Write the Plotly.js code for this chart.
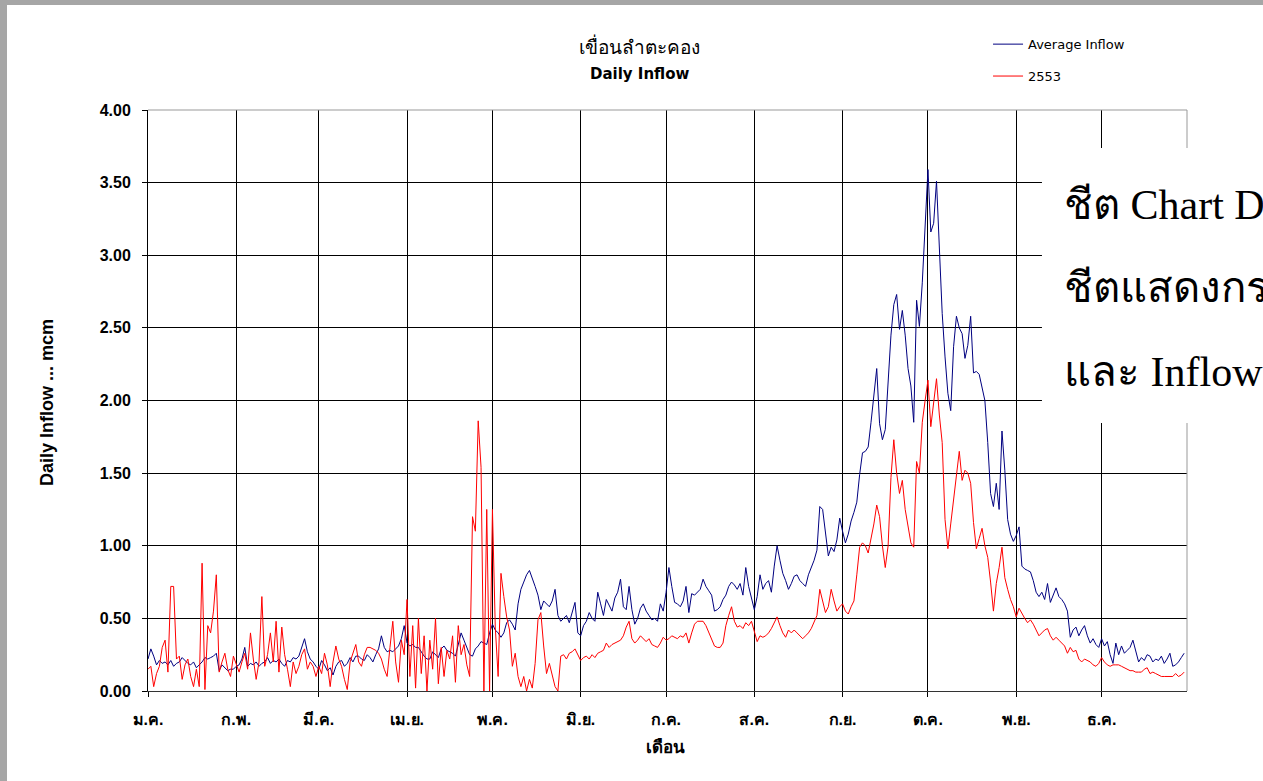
<!DOCTYPE html>
<html>
<head>
<meta charset="utf-8">
<script src="https://cdn.plot.ly/plotly-3.0.1.min.js"></script>
<style>
  html, body { margin: 0; padding: 0; background: #ffffff; }
  #frame { position: absolute; left: 0; top: 0; width: 1263px; height: 781px; box-sizing: border-box;
           border-top: 5px solid #a6a6a6; border-left: 7px solid #a6a6a6; background: #ffffff; overflow: hidden; }
  #chart { position: absolute; left: 0; top: 0; width: 1256px; height: 776px; }
</style>
</head>
<body>
<div id="frame"><div id="chart"></div></div>
<script>
// ---- data ----
const chartTitle = "เขื่อนลำตะคอง";
const chartSubtitle = "Daily Inflow";
const yTitle = "Daily Inflow ... mcm";
const xTitle = "เดือน";
const seriesNames = ["Average Inflow", "2553"];
const monthLabels = ["ม.ค.", "ก.พ.", "มี.ค.", "เม.ย.", "พ.ค.", "มิ.ย.", "ก.ค.", "ส.ค.", "ก.ย.", "ต.ค.", "พ.ย.", "ธ.ค."];
const monthStartDay = [0, 31, 60, 91, 121, 152, 182, 213, 244, 274, 305, 335];
const noteLines = ["ชีต Chart D", "ชีตแสดงกร", "และ Inflow"];

// Average Inflow (mcm/day), one value per day
const avgInflow = [
  0.22,0.29,0.24,0.18,0.21, 0.19,0.20,0.18,0.21,0.17, 0.19,0.20,0.23,0.21,0.19, 0.18,0.20,0.16,0.18,0.20,
  0.23,0.22,0.23,0.24,0.26, 0.14,0.18,0.16,0.14,0.15, 0.15,0.17,0.18,0.22,0.30, 0.17,0.19,0.18,0.20,0.17,
  0.19,0.20,0.23,0.19,0.21, 0.20,0.22,0.19,0.17,0.21, 0.20,0.23,0.22,0.24,0.30, 0.36,0.27,0.22,0.20,0.17,
  0.15,0.21,0.18,0.14,0.16, 0.11,0.17,0.20,0.21,0.17, 0.19,0.23,0.20,0.24,0.24, 0.22,0.21,0.25,0.23,0.20,
  0.25,0.29,0.38,0.30,0.27, 0.28,0.27,0.29,0.31,0.36, 0.45,0.33,0.31,0.32,0.30, 0.30,0.27,0.24,0.22,0.22,
  0.27,0.25,0.23,0.29,0.31, 0.28,0.27,0.26,0.24,0.33, 0.40,0.35,0.30,0.25,0.24, 0.29,0.31,0.34,0.33,0.32,
  0.40,0.46,0.42,0.40,0.37, 0.40,0.47,0.49,0.46,0.42, 0.60,0.70,0.75,0.80,0.83, 0.78,0.72,0.66,0.56,0.62,
  0.60,0.58,0.62,0.70,0.52, 0.48,0.50,0.52,0.47,0.55, 0.61,0.40,0.38,0.45,0.48, 0.54,0.50,0.48,0.68,0.60,
  0.52,0.63,0.59,0.55,0.64, 0.68,0.77,0.58,0.56,0.72, 0.56,0.46,0.50,0.57,0.60, 0.55,0.52,0.49,0.50,0.48,
  0.60,0.55,0.68,0.85,0.72, 0.61,0.60,0.58,0.62,0.72, 0.54,0.67,0.66,0.68,0.70, 0.77,0.72,0.69,0.66,0.55,
  0.56,0.58,0.63,0.66,0.72, 0.75,0.73,0.70,0.74,0.66, 0.85,0.72,0.64,0.56,0.65, 0.80,0.70,0.74,0.76,0.68,
  0.86,1.00,0.90,0.81,0.76, 0.70,0.74,0.79,0.80,0.76, 0.74,0.72,0.80,0.85,0.90, 0.97,1.27,1.25,1.09,0.93,
  0.99,0.96,1.04,1.19,1.10, 1.02,1.08,1.17,1.23,1.30, 1.49,1.64,1.65,1.68,1.85, 2.05,2.22,1.84,1.73,1.80,
  2.16,2.45,2.66,2.73,2.49, 2.62,2.45,2.22,2.10,1.85, 2.69,2.51,2.81,3.20,3.59, 3.16,3.22,3.51,2.99,2.60,
  2.30,2.05,1.93,2.37,2.58, 2.50,2.46,2.29,2.38,2.58, 2.19,2.20,2.18,2.10,2.00, 1.71,1.36,1.27,1.43,1.25,
  1.79,1.52,1.18,1.08,1.03, 1.07,1.13,0.86,0.84,0.83, 0.82,0.76,0.68,0.65,0.68, 0.63,0.74,0.61,0.66,0.71,
  0.65,0.63,0.60,0.55,0.37, 0.42,0.44,0.38,0.42,0.45, 0.38,0.33,0.36,0.32,0.30, 0.36,0.31,0.34,0.25,0.19,
  0.33,0.25,0.31,0.26,0.28, 0.30,0.35,0.27,0.20,0.23, 0.21,0.25,0.24,0.20,0.22, 0.21,0.24,0.19,0.22,0.26,
  0.17,0.18,0.20,0.23,0.26
];

// Inflow 2553 (mcm/day), one value per day
const inflow2553 = [
  0.15,0.17,0.03,0.12,0.17, 0.30,0.35,0.13,0.72,0.72, 0.22,0.24,0.08,0.18,0.22, 0.10,0.03,0.15,0.03,0.88,
  0.01,0.45,0.40,0.55,0.80, 0.13,0.20,0.26,0.15,0.10, 0.24,0.18,0.13,0.20,0.26, 0.15,0.40,0.22,0.08,0.20,
  0.65,0.17,0.25,0.40,0.20, 0.48,0.13,0.44,0.25,0.15, 0.03,0.20,0.12,0.17,0.25, 0.29,0.15,0.20,0.17,0.10,
  0.17,0.12,0.26,0.18,0.03, 0.20,0.31,0.22,0.17,0.08, 0.01,0.20,0.26,0.32,0.20, 0.17,0.25,0.30,0.30,0.29,
  0.28,0.26,0.22,0.15,0.10, 0.30,0.48,0.20,0.06,0.35, 0.25,0.63,0.10,0.45,0.02, 0.50,0.12,0.38,0.00,0.35,
  0.15,0.50,0.05,0.30,0.10, 0.28,0.22,0.38,0.06,0.45, 0.25,0.32,0.18,0.10,1.20, 1.10,1.86,1.54,0.00,1.25,
  0.00,1.25,0.44,0.10,0.81, 0.65,0.51,0.42,0.17,0.26, 0.10,0.03,0.10,0.00,0.08, 0.02,0.19,0.49,0.54,0.31,
  0.12,0.19,0.10,0.03,0.00, 0.24,0.25,0.22,0.26,0.27, 0.29,0.25,0.21,0.23,0.24, 0.22,0.25,0.23,0.26,0.27,
  0.28,0.33,0.30,0.32,0.33, 0.34,0.35,0.38,0.44,0.48, 0.36,0.33,0.35,0.38,0.36, 0.34,0.36,0.32,0.31,0.30,
  0.33,0.37,0.35,0.36,0.38, 0.37,0.36,0.38,0.37,0.40, 0.33,0.40,0.46,0.48,0.48, 0.48,0.45,0.40,0.35,0.31,
  0.30,0.30,0.33,0.45,0.52, 0.58,0.48,0.44,0.45,0.43, 0.47,0.45,0.48,0.40,0.34, 0.38,0.37,0.38,0.40,0.43,
  0.47,0.51,0.45,0.40,0.37, 0.42,0.40,0.42,0.40,0.38, 0.36,0.38,0.40,0.43,0.47, 0.52,0.70,0.62,0.54,0.58,
  0.70,0.62,0.55,0.58,0.60, 0.55,0.53,0.58,0.62,0.80, 0.99,1.02,1.00,0.95,1.04, 1.15,1.28,1.20,1.00,0.85,
  1.00,1.47,1.73,1.50,1.36, 1.45,1.25,1.13,1.02,0.99, 1.58,1.50,1.85,2.00,2.14, 1.82,1.98,2.15,1.90,1.71,
  1.18,0.98,1.15,1.31,1.50, 1.65,1.45,1.52,1.50,1.43, 1.16,0.98,1.05,1.12,1.00, 0.92,0.75,0.55,0.74,0.85,
  0.99,0.78,0.70,0.63,0.58, 0.51,0.57,0.53,0.50,0.47, 0.49,0.46,0.42,0.38,0.40, 0.42,0.43,0.38,0.35,0.37,
  0.35,0.33,0.31,0.26,0.30, 0.27,0.28,0.22,0.20,0.22, 0.21,0.20,0.18,0.17,0.19, 0.23,0.20,0.18,0.17,0.18,
  0.18,0.18,0.17,0.16,0.15, 0.14,0.14,0.13,0.13,0.13, 0.15,0.16,0.12,0.13,0.12, 0.11,0.10,0.10,0.10,0.10,
  0.10,0.12,0.10,0.11,0.13
];

// ---- chart ----
const days = avgInflow.map((_, i) => i);
const sansThai = "'Liberation Sans', Arial, 'Noto Sans', 'DejaVu Sans', sans-serif";
const wideSans = "'DejaVu Sans', Verdana, sans-serif";
const tickFont = { family: sansThai, size: 16, color: "#000000", weight: "bold" };
const noteFont = { family: "'Liberation Serif', 'Times New Roman', serif", size: 42, color: "#000000" };

const traces = [
  { x: days, y: avgInflow, type: "scatter", mode: "lines", name: seriesNames[0], legendgroup: "a",
    line: { color: "#000080", width: 1 }, hoverinfo: "skip" },
  { x: days, y: inflow2553, type: "scatter", mode: "lines", name: seriesNames[1], legendgroup: "b",
    line: { color: "#ff0000", width: 1 }, hoverinfo: "skip" }
];

const layout = {
  width: 1256, height: 776,
  margin: { l: 141, r: 76, t: 105, b: 90, autoexpand: false },
  paper_bgcolor: "#ffffff", plot_bgcolor: "#ffffff",
  showlegend: true,
  legend: { x: 0.8085, y: 1.1391, xanchor: "left", yanchor: "top", tracegroupgap: 12,
            bgcolor: "rgba(0,0,0,0)", borderwidth: 0, itemwidth: 30,
            font: { family: wideSans, size: 13, color: "#000000" } },
  xaxis: {
    range: [0, 365], tickmode: "array", tickvals: monthStartDay, ticktext: monthLabels,
    ticks: "outside", ticklen: 5, tickcolor: "#000000", tickwidth: 1,
    showgrid: true, gridcolor: "#000000", gridwidth: 1, zeroline: false,
    showline: true, linecolor: "#333333", linewidth: 1, mirror: false,
    tickfont: tickFont, ticklabelstandoff: 9, fixedrange: true
  },
  yaxis: {
    range: [0, 4], tick0: 0, dtick: 0.5, tickformat: ".2f",
    ticks: "outside", ticklen: 5, tickcolor: "#000000", tickwidth: 1,
    showgrid: true, gridcolor: "#000000", gridwidth: 1, zeroline: false,
    showline: true, linecolor: "#000000", linewidth: 1,
    tickfont: tickFont, ticklabelstandoff: 8, fixedrange: true
  },
  shapes: [
    { type: "line", xref: "paper", yref: "paper", x0: 0, x1: 1, y0: 1, y1: 1, layer: "above",
      line: { color: "#999999", width: 1 } },
    { type: "line", xref: "paper", yref: "paper", x0: 1, x1: 1, y0: 0, y1: 1, layer: "above",
      line: { color: "#999999", width: 1 } },
    { type: "rect", xref: "paper", yref: "paper", x0: 0.8604, x1: 1.2, y0: 0.4613, y1: 0.9346, layer: "above",
      fillcolor: "#ffffff", line: { width: 0 } }
  ],
  annotations: [
    { text: chartTitle, xref: "paper", yref: "paper", x: 0.4726, y: 1.1101, xanchor: "center", yanchor: "middle",
      showarrow: false, font: { family: sansThai, size: 19, color: "#000000" } },
    { text: chartSubtitle, xref: "paper", yref: "paper", x: 0.4735, y: 1.0620, xanchor: "center", yanchor: "middle",
      showarrow: false, font: { family: wideSans, size: 15, color: "#000000", weight: "bold" } },
    { text: yTitle, xref: "paper", yref: "paper", x: -0.0972, y: 0.4957, xanchor: "center", yanchor: "middle",
      textangle: -90, showarrow: false, font: { family: sansThai, size: 18, color: "#000000", weight: "bold" } },
    { text: xTitle, xref: "paper", yref: "paper", x: 0.4976, y: -0.0964, xanchor: "center", yanchor: "middle",
      showarrow: false, font: { family: sansThai, size: 17, color: "#000000", weight: "bold" } },
    { text: noteLines[0], xref: "paper", yref: "paper", x: 0.8797, y: 0.8364, xanchor: "left", yanchor: "middle",
      showarrow: false, font: noteFont },
    { text: noteLines[1], xref: "paper", yref: "paper", x: 0.8797, y: 0.6936, xanchor: "left", yanchor: "middle",
      showarrow: false, font: noteFont },
    { text: noteLines[2], xref: "paper", yref: "paper", x: 0.8797, y: 0.5491, xanchor: "left", yanchor: "middle",
      showarrow: false, font: noteFont }
  ]
};

Plotly.newPlot("chart", traces, layout, { displayModeBar: false, staticPlot: true });
</script>
</body>
</html>
